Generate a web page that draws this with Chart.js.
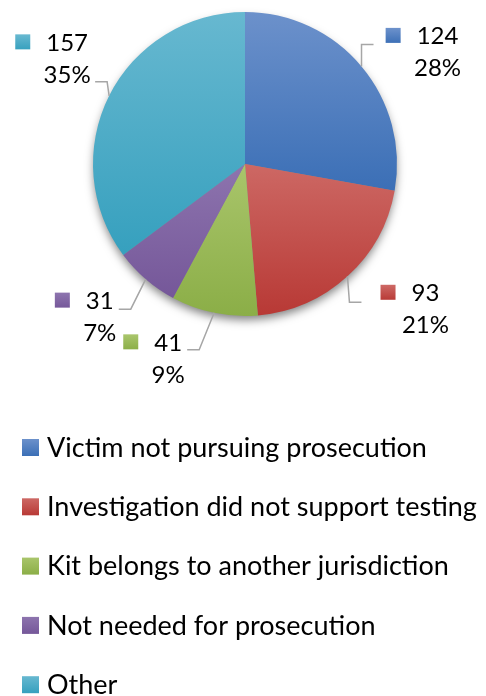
<!DOCTYPE html>
<html>
<head>
<meta charset="utf-8">
<script src="https://cdn.jsdelivr.net/npm/chart.js@4/dist/chart.umd.min.js"></script>
<style>
  body { margin: 0; background: #fff; }
  #wrap { width: 486px; height: 696px; }
</style>
</head>
<body>
<div id="wrap"><canvas id="my-chart" width="486" height="696"></canvas></div>
<script>
'use strict';

// data
let categories = [
  'Victim not pursuing prosecution',
  'Investigation did not support testing',
  'Kit belongs to another jurisdiction',
  'Not needed for prosecution',
  'Other'
];
let counts = [124, 93, 41, 31, 157];
let percentLabels = ['28%', '21%', '9%', '7%', '35%'];

// colours (light top, dark bottom)
let lightColors = ['#6c91cb', '#cd6864', '#a9c56b', '#8d74ae', '#67b8d0'];
let darkColors = ['#3b6fb6', '#b83935', '#8bae47', '#755799', '#36a0be'];

// label placement: text centre offset from edge point, and where the leader starts
let labelOffsets = [[76, -30], [78, 17], [-46, 30], [-46, 22], [-42, -53]];
let leaderStart = [[-64, 8], [-64, 9], [19, 7], [19, 8], [28, 39]];

const FONT = '24px Lato';

function sliceAngles(i) {
  let total = counts.reduce((a, b) => a + b, 0);
  let before = 0;
  for (let k = 0; k < i; k++) before += counts[k];
  let a0 = -Math.PI / 2 + before / total * Math.PI * 2;
  let a1 = a0 + counts[i] / total * Math.PI * 2;
  return [a0, a1];
}

function sliceFill(context) {
  let chart = context.chart;
  let area = chart.chartArea;
  let i = context.dataIndex;
  if (!area || i === undefined) return lightColors[i || 0];
  let cx = (area.left + area.right) / 2;
  let cy = (area.top + area.bottom) / 2;
  let r = Math.min(area.right - area.left, area.bottom - area.top) / 2;
  let [a0, a1] = sliceAngles(i);
  let ys = [cy, cy + r * Math.sin(a0), cy + r * Math.sin(a1)];
  // top / bottom extremes inside the slice
  [-Math.PI / 2, Math.PI / 2, 3 * Math.PI / 2].forEach(function (a) {
    if (a > a0 && a < a1) ys.push(cy + r * Math.sin(a));
  });
  let minY = Math.min.apply(null, ys);
  let maxY = Math.max.apply(null, ys);
  let g = chart.ctx.createLinearGradient(0, minY, 0, maxY);
  g.addColorStop(0, lightColors[i]);
  g.addColorStop(1, darkColors[i]);
  return g;
}

// soft shadow under the pie
let shadowPlugin = {
  id: 'pieShadow',
  beforeDatasetsDraw(chart) {
    let arc = chart.getDatasetMeta(0).data[0];
    if (!arc) return;
    let ctx = chart.ctx;
    ctx.save();
    ctx.shadowColor = 'rgba(0,0,0,0.5)';
    ctx.shadowBlur = 10;
    ctx.shadowOffsetY = 5;
    ctx.fillStyle = '#888';
    ctx.beginPath();
    ctx.arc(arc.x, arc.y, arc.outerRadius - 1, 0, Math.PI * 2);
    ctx.fill();
    ctx.restore();
  }
};

// data labels with leader lines
let labelPlugin = {
  id: 'outLabels',
  afterDatasetsDraw(chart) {
    let ctx = chart.ctx;
    let meta = chart.getDatasetMeta(0);
    ctx.save();
    ctx.font = FONT;
    ctx.textBaseline = 'middle';
    ctx.textAlign = 'center';
    meta.data.forEach(function (arc, i) {
      let mid = (arc.startAngle + arc.endAngle) / 2;
      let ex = arc.x + Math.cos(mid) * arc.outerRadius;
      let ey = arc.y + Math.sin(mid) * arc.outerRadius;
      let tx = ex + labelOffsets[i][0];
      let ty = ey + labelOffsets[i][1];

      // leader line
      let sx = tx + leaderStart[i][0];
      let sy = ty + leaderStart[i][1];
      let dir = ex > sx ? 1 : -1;
      ctx.strokeStyle = '#a6a6a6';
      ctx.lineWidth = 1.5;
      ctx.beginPath();
      ctx.moveTo(sx, sy);
      ctx.lineTo(sx + dir * 12, sy);
      ctx.lineTo(ex, ey);
      ctx.stroke();

      // text
      let valText = String(counts[i]);
      let w = ctx.measureText(valText).width;
      ctx.fillStyle = '#000';
      ctx.fillText(valText, tx, ty);
      ctx.fillText(percentLabels[i], tx, ty + 32);

      // colour key square
      let sqRight = tx - w / 2 - 16;
      let g = ctx.createLinearGradient(0, ty - 8, 0, ty + 7);
      g.addColorStop(0, lightColors[i]);
      g.addColorStop(1, darkColors[i]);
      ctx.fillStyle = g;
      ctx.fillRect(sqRight - 15, ty - 8.5, 15, 15);
    });
    ctx.restore();
  }
};

// legend below the pie, one entry per row
let legendPlugin = {
  id: 'rowLegend',
  afterDraw(chart) {
    let ctx = chart.ctx;
    ctx.save();
    ctx.font = '27px Lato';
    ctx.textBaseline = 'middle';
    ctx.textAlign = 'left';
    for (let i = 0; i < categories.length; i++) {
      let y = 448 + i * 59.3;
      let g = ctx.createLinearGradient(0, y - 9, 0, y + 8);
      g.addColorStop(0, lightColors[i]);
      g.addColorStop(1, darkColors[i]);
      ctx.fillStyle = g;
      ctx.fillRect(22, y - 9, 17, 17);
      ctx.fillStyle = '#000';
      ctx.fillText(categories[i], 47, y);
    }
    ctx.restore();
  }
};

const ctx = document.getElementById('my-chart').getContext('2d');

new Chart(ctx, {
  type: 'pie',
  data: {
    labels: categories,
    datasets: [{
      data: counts,
      backgroundColor: sliceFill,
      borderWidth: 0
    }]
  },
  options: {
    responsive: false,
    animation: false,
    layout: { padding: { left: 93, right: 89, top: 12, bottom: 380 } },
    plugins: {
      legend: { display: false },
      tooltip: { enabled: false }
    }
  },
  plugins: [shadowPlugin, labelPlugin, legendPlugin]
});
</script>
</body>
</html>
